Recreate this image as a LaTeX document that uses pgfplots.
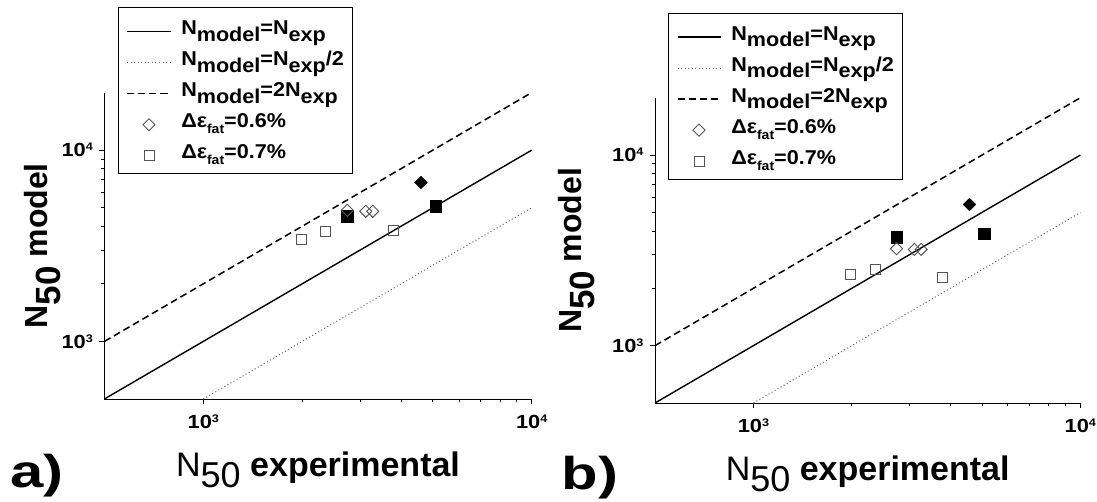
\documentclass[border=0pt]{standalone}
\usepackage{fontspec}
\setmainfont{Liberation Sans}
\newfontfamily\legfont[FakeStretch=1.08]{Liberation Sans}
\newfontfamily\tickfont[FakeStretch=1.15]{Liberation Sans}
\newfontfamily\panfont[FakeStretch=1.3]{Liberation Sans}
\usepackage{pgfplots}
\usepackage{pgfplotstable}
\pgfplotsset{compat=1.18}

\definecolor{mkgray}{RGB}{85,85,85}
\definecolor{dotgray}{RGB}{95,95,95}

% Panel a data
\pgfplotstableread{
x y
2745 4845
3124 4790
3281 4790
}\adia
\pgfplotstableread{
x y
1984 3425
2359 3774
3790 3806
}\asqu
\pgfplotstableread{
x y
4603 6773
}\adiaf
\pgfplotstableread{
x y
2745 4525
5103 5105
}\asquf
% Panel b data
\pgfplotstableread{
x y
2740 3228
3107 3200
3259 3200
}\bdia
\pgfplotstableread{
x y
1980 2364
2357 2503
3796 2288
}\bsqu
\pgfplotstableread{
x y
4581 5502
}\bdiaf
\pgfplotstableread{
x y
2745 3716
5086 3872
}\bsquf

\newcommand\tlab[1]{10\raisebox{6pt}{\fontsize{11}{11}\selectfont #1}}
\newcommand\sub[1]{\raisebox{-0.33em}{#1}}
\newcommand\fsub[1]{\raisebox{-0.3em}{\fontsize{13}{13}\selectfont #1}}

\pgfplotsset{
  lineleg/.style={legend image code/.code={\draw[##1] (0pt,-3pt) -- (43pt,-3pt);}},
  markleg/.style={legend image code/.code={\draw[mark repeat=2,mark phase=2,##1] plot coordinates {(0pt,-3pt) (21.5pt,-3pt) (43pt,-3pt)};}},
  every axis/.append style={
    xmode=log, ymode=log, scale only axis,
    xmin=500, xmax=10000, ymin=500, ymax=20000,
    axis x line=bottom, axis y line=left,
    axis line style={-, line width=0.9pt},
    tick align=outside, major tick length=5pt, minor tick length=3pt,
    tick style={black, line width=0.7pt},
    xtick={1000,10000}, ytick={1000,10000},
    xticklabels={\tlab{3},\tlab{4}}, yticklabels={\tlab{3},\tlab{4}},
    ticklabel style={font=\tickfont\fontsize{19}{19}\selectfont\bfseries},
    xticklabel style={yshift=-7pt},
    yticklabel style={xshift=-3pt},
    clip=false,
    legend cell align=left,
    legend style={draw=black, line width=0.9pt, fill=white,
      font=\legfont\fontsize{20}{22}\selectfont\bfseries,
      anchor=north west, row sep=5pt, inner xsep=8pt, inner ysep=8pt,
      nodes={text height=18pt, text depth=6pt, inner sep=1pt},
      /tikz/every odd column/.append style={column sep=9pt}},
    xlabel={N\raisebox{-0.3em}{\fontsize{36}{36}\selectfont 50} \textbf{experimental}},
    xlabel style={font=\fontsize{34}{34}\selectfont, at={(axis description cs:0.5,0)}, anchor=base, yshift=-78pt},
    ylabel={N\raisebox{-13pt}{\fontsize{35}{35}\selectfont 50} model},
    ylabel style={font=\fontsize{32}{32}\selectfont\bfseries, anchor=base},
  },
}

\begin{document}
\begin{tikzpicture}
\useasboundingbox (0pt,0pt) rectangle (1097pt,502pt);

\begin{axis}[at={(104.4pt,103pt)}, anchor=south west,
  width=427.3pt, height=306.4pt,
  legend style={at={(axis description cs:0.0325,1.2784)}},
  ylabel style={at={(axis description cs:-0.134,0.5)}}]
\addplot[black, line width=1.4pt, lineleg] coordinates {(500,500) (10000,10000)};
\addlegendentry{N\sub{model}=N\sub{exp}}
\addplot[dotgray, line width=1pt, dash pattern=on 1pt off 2.5pt, lineleg] coordinates {(1000,500) (10000,5000)};
\addlegendentry{N\sub{model}=N\sub{exp}/2}
\addplot[black, line width=1.5pt, dash pattern=on 7pt off 4pt, lineleg] coordinates {(500,1000) (10000,20000)};
\addlegendentry{N\sub{model}=2N\sub{exp}}
\addplot[only marks, mark=square*, mark size=4.5pt, mark options={rotate=45, draw=black, fill=black}, forget plot] table {\adiaf};
\addplot[only marks, mark=square*, mark size=5.8pt, mark options={draw=black, fill=black}, forget plot] table {\asquf};
\addplot[only marks, mark=square, mark size=4.3pt, mark options={rotate=45, draw=mkgray, fill=white, line width=0.9pt}, markleg] table {\adia};
\addlegendentry{Δε\fsub{fat}=0.6\%}
\addplot[only marks, mark=square, mark size=5pt, mark options={draw=mkgray, fill=white, line width=0.9pt}, markleg] table {\asqu};
\addlegendentry{Δε\fsub{fat}=0.7\%}
\end{axis}

\begin{axis}[at={(655pt,99pt)}, anchor=south west,
  width=425.3pt, height=305.2pt,
  legend style={at={(axis description cs:0.0313,1.2789)}},
  ylabel style={at={(axis description cs:-0.172,0.5)}}]
\addplot[black, line width=1.4pt, lineleg] coordinates {(500,500) (10000,10000)};
\addlegendentry{N\sub{model}=N\sub{exp}}
\addplot[dotgray, line width=1pt, dash pattern=on 1pt off 2.5pt, lineleg] coordinates {(1000,500) (10000,5000)};
\addlegendentry{N\sub{model}=N\sub{exp}/2}
\addplot[black, line width=1.5pt, dash pattern=on 7pt off 4pt, lineleg] coordinates {(500,1000) (10000,20000)};
\addlegendentry{N\sub{model}=2N\sub{exp}}
\addplot[only marks, mark=square*, mark size=4.5pt, mark options={rotate=45, draw=black, fill=black}, forget plot] table {\bdiaf};
\addplot[only marks, mark=square*, mark size=5.8pt, mark options={draw=black, fill=black}, forget plot] table {\bsquf};
\addplot[only marks, mark=square, mark size=4.3pt, mark options={rotate=45, draw=mkgray, fill=white, line width=0.9pt}, markleg] table {\bdia};
\addlegendentry{Δε\fsub{fat}=0.6\%}
\addplot[only marks, mark=square, mark size=5pt, mark options={draw=mkgray, fill=white, line width=0.9pt}, markleg] table {\bsqu};
\addlegendentry{Δε\fsub{fat}=0.7\%}
\end{axis}

\node[font=\panfont\fontsize{46}{46}\selectfont\bfseries, anchor=base] at (37pt,14pt) {a)};
\node[font=\panfont\fontsize{46}{46}\selectfont\bfseries, anchor=base] at (590pt,12pt) {b)};
\end{tikzpicture}
\end{document}
